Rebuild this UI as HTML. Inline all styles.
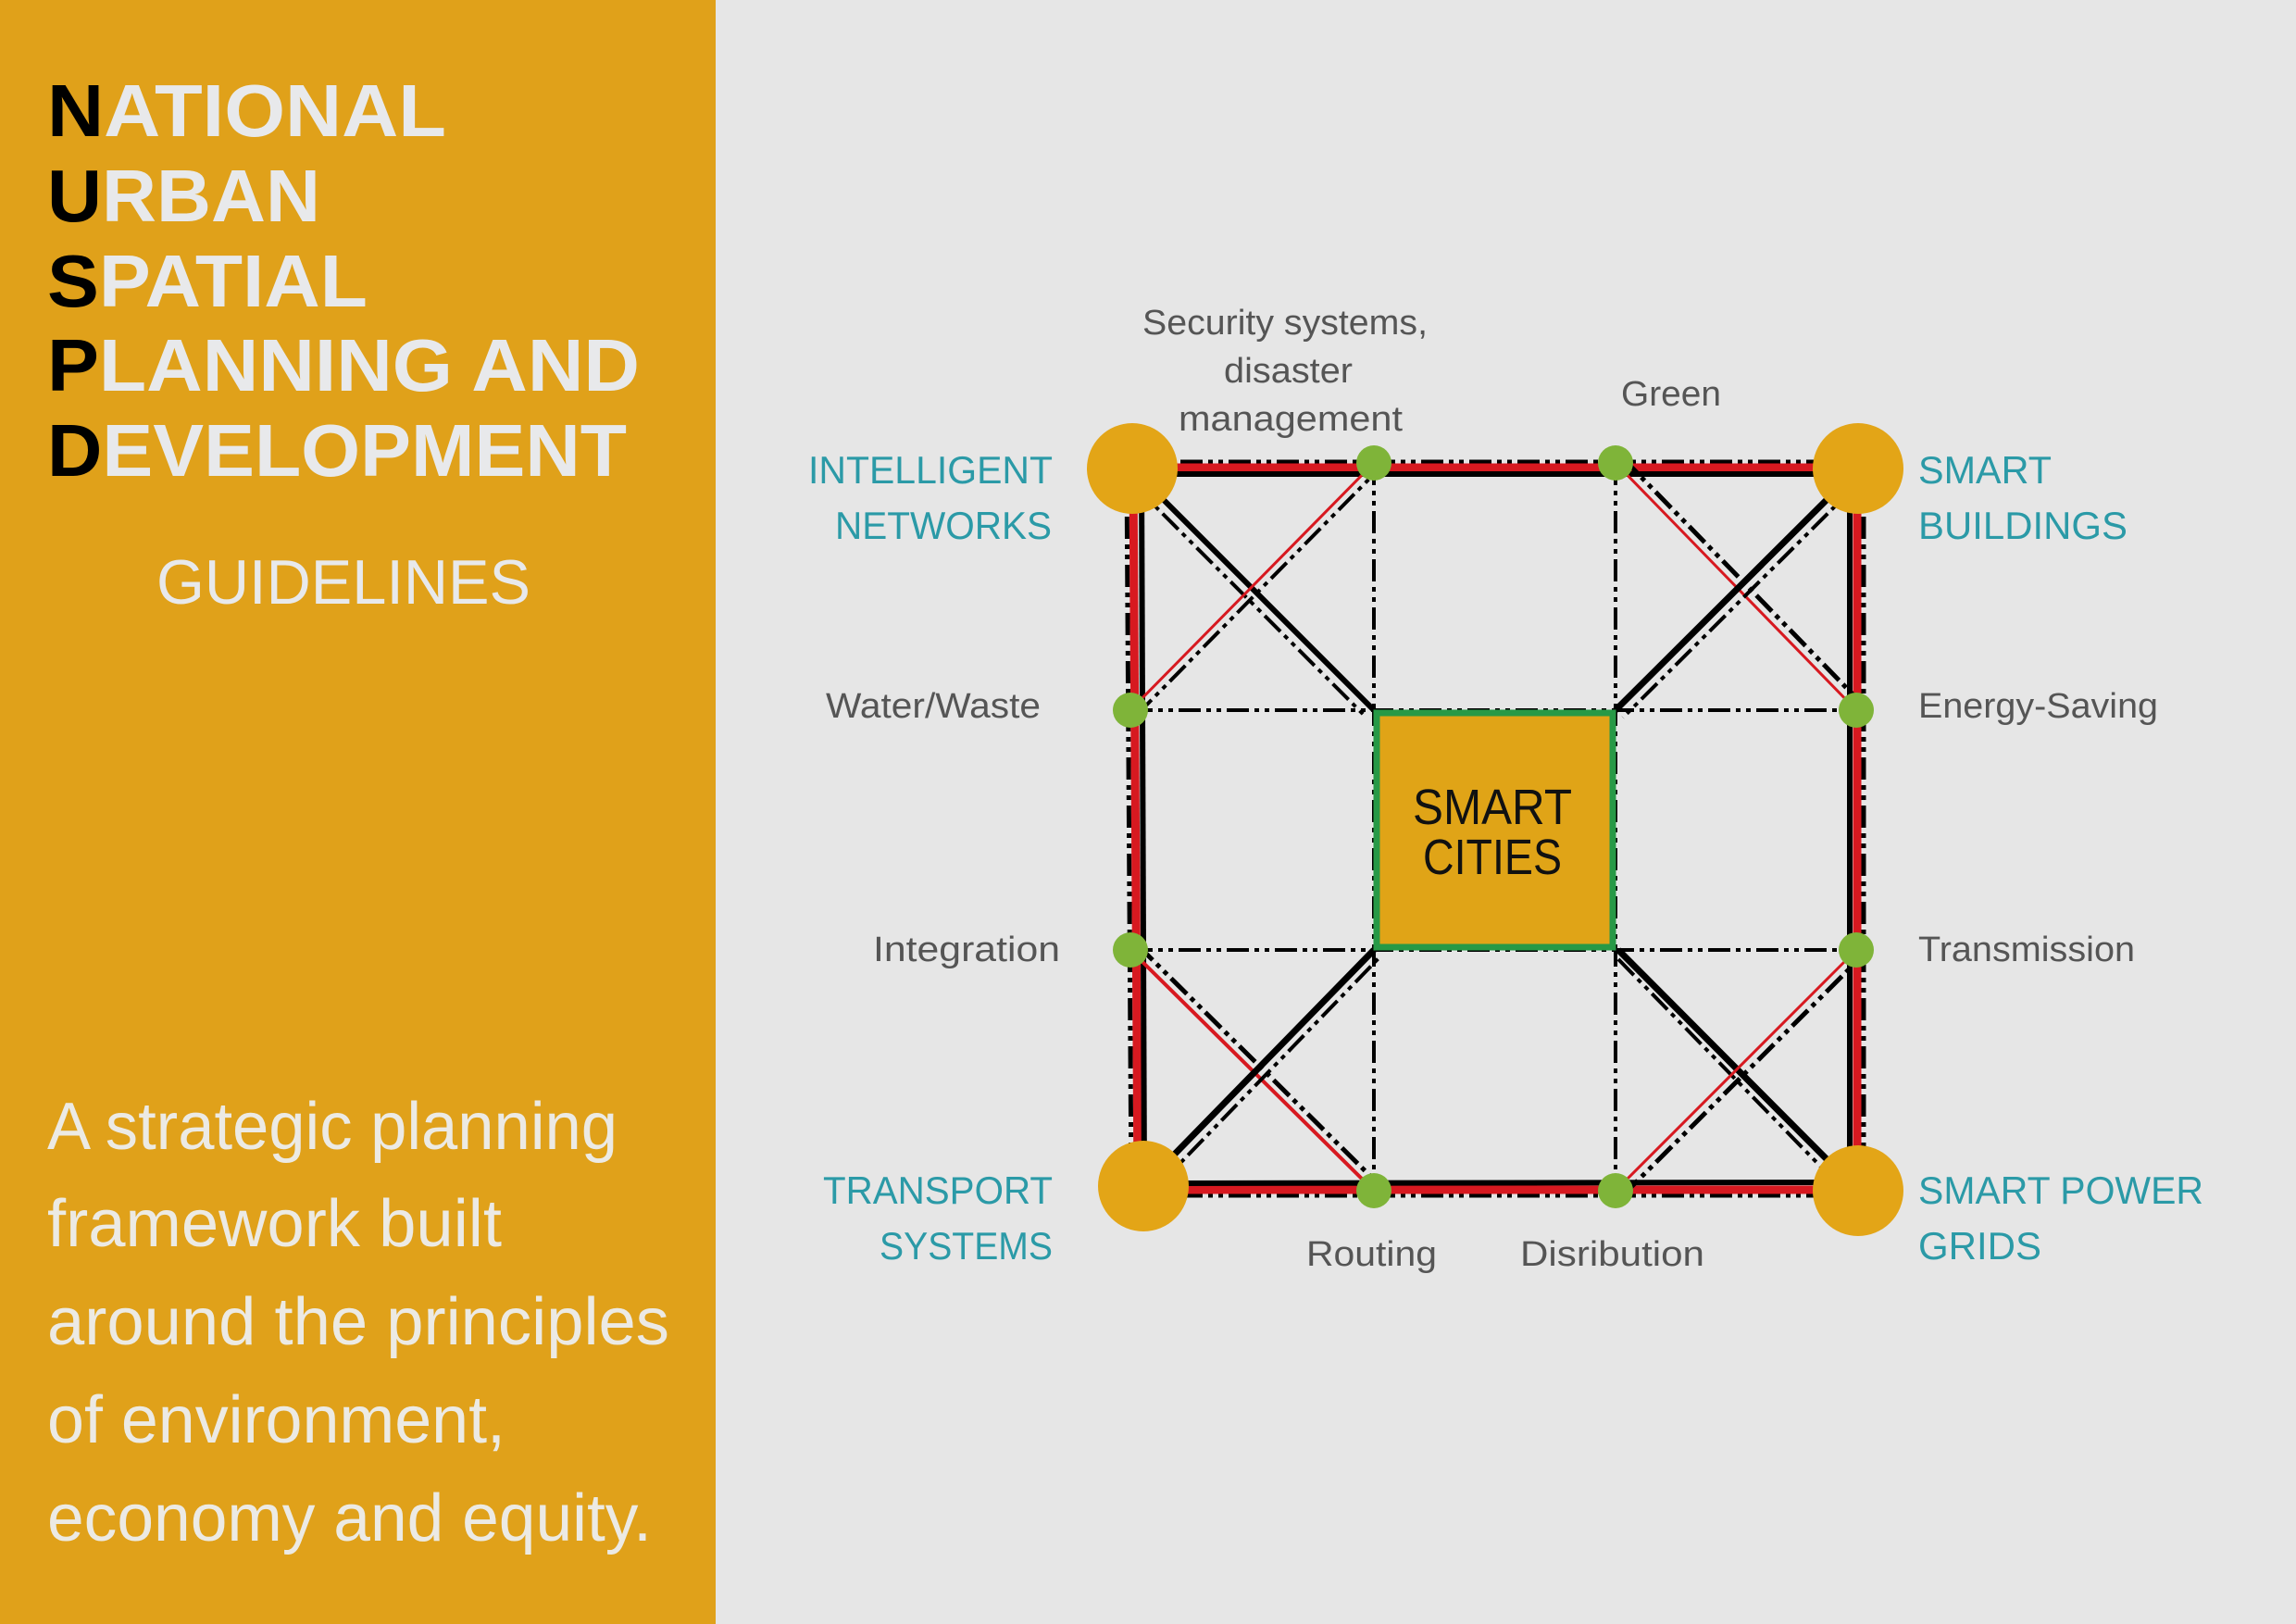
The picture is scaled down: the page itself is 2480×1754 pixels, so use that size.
<!DOCTYPE html>
<html><head><meta charset="utf-8"><style>
html,body{margin:0;padding:0;width:2480px;height:1754px;overflow:hidden;background:#e6e6e6}
svg{display:block}
</style></head><body>
<svg width="2480" height="1754" viewBox="0 0 2480 1754" xmlns="http://www.w3.org/2000/svg">
<rect x="0" y="0" width="2480" height="1754" fill="#e6e6e6"/>
<rect x="0" y="0" width="773" height="1754" fill="#e0a11a"/>
<g font-family="Liberation Sans, sans-serif" font-weight="bold" font-size="80" fill="#e8e9eb">
<text x="51" y="147" textLength="431" lengthAdjust="spacingAndGlyphs"><tspan fill="#000">N</tspan>ATIONAL</text>
<text x="51" y="239" textLength="295" lengthAdjust="spacingAndGlyphs"><tspan fill="#000">U</tspan>RBAN</text>
<text x="51" y="331" textLength="346" lengthAdjust="spacingAndGlyphs"><tspan fill="#000">S</tspan>PATIAL</text>
<text x="51" y="422" textLength="640" lengthAdjust="spacingAndGlyphs"><tspan fill="#000">P</tspan>LANNING AND</text>
<text x="51" y="514" textLength="626" lengthAdjust="spacingAndGlyphs"><tspan fill="#000">D</tspan>EVELOPMENT</text>
</g>
<text x="169" y="652" font-family="Liberation Sans, sans-serif" font-size="68" fill="#e8e9eb" textLength="404" lengthAdjust="spacingAndGlyphs">GUIDELINES</text>
<g font-family="Liberation Sans, sans-serif" font-size="72" fill="#eceae4">
<text x="51" y="1241" textLength="616" lengthAdjust="spacingAndGlyphs">A strategic planning</text>
<text x="51" y="1346" textLength="491" lengthAdjust="spacingAndGlyphs">framework built</text>
<text x="51" y="1452" textLength="672" lengthAdjust="spacingAndGlyphs">around the principles</text>
<text x="51" y="1558" textLength="495" lengthAdjust="spacingAndGlyphs">of environment,</text>
<text x="51" y="1664" textLength="653" lengthAdjust="spacingAndGlyphs">economy and equity.</text>
</g>

<g stroke="#000" stroke-width="4" fill="none" stroke-dasharray="24 6 5 6 5 6">
<line x1="1484" y1="500" x2="1484" y2="1286"/>
<line x1="1745" y1="500" x2="1745" y2="1286"/>
<line x1="1221" y1="767" x2="2005" y2="767"/>
<line x1="1221" y1="1026" x2="2005" y2="1026"/>
</g>

<g fill="none">
<g stroke="#000" stroke-width="5" stroke-dasharray="24 6 5 6 5 6">
<line x1="1223" y1="499" x2="2007" y2="499"/>
<line x1="1223" y1="1291" x2="2007" y2="1291"/>
<line x1="1217" y1="506" x2="1222" y2="1286"/>
<line x1="2013" y1="506" x2="2013" y2="1286"/>
</g>
<g stroke="#d71920" stroke-width="9">
<line x1="1223" y1="505" x2="2007" y2="505"/>
<line x1="1235" y1="1285" x2="2007" y2="1285"/>
<line x1="1224" y1="506" x2="1229" y2="1281"/>
<line x1="2006" y1="506" x2="2006" y2="1286"/>
</g>
<g stroke="#000" stroke-width="6">
<line x1="1223" y1="512" x2="2007" y2="512"/>
<line x1="1235" y1="1278" x2="2007" y2="1277"/>
<line x1="1233" y1="506" x2="1236" y2="1281"/>
<line x1="1998" y1="506" x2="1998" y2="1286"/>
</g>
</g>

<g fill="none">
<line x1="1227" y1="510" x2="1484" y2="767" stroke="#000" stroke-width="6"/>
<line x1="1219" y1="518" x2="1476" y2="775" stroke="#000" stroke-width="4" stroke-dasharray="24 6 5 6 5 6"/>
<line x1="1221" y1="767" x2="1484" y2="500" stroke="#d71920" stroke-width="3"/>
<line x1="1227" y1="773" x2="1490" y2="506" stroke="#000" stroke-width="4" stroke-dasharray="24 6 5 6 5 6"/>
<line x1="1745" y1="500" x2="2005" y2="767" stroke="#d71920" stroke-width="3"/>
<line x1="1752" y1="494" x2="2012" y2="761" stroke="#000" stroke-width="5" stroke-dasharray="24 6 5 6 5 6"/>
<line x1="2003" y1="510" x2="1745" y2="767" stroke="#000" stroke-width="7"/>
<line x1="2011" y1="518" x2="1753" y2="775" stroke="#000" stroke-width="4" stroke-dasharray="24 6 5 6 5 6"/>
<line x1="1221" y1="1026" x2="1484" y2="1286" stroke="#d71920" stroke-width="4"/>
<line x1="1228" y1="1020" x2="1490" y2="1280" stroke="#000" stroke-width="5" stroke-dasharray="24 6 5 6 5 6"/>
<line x1="1239" y1="1277" x2="1484" y2="1026" stroke="#000" stroke-width="7"/>
<line x1="1247" y1="1285" x2="1490" y2="1034" stroke="#000" stroke-width="4" stroke-dasharray="24 6 5 6 5 6"/>
<line x1="1748" y1="1026" x2="2003" y2="1282" stroke="#000" stroke-width="7"/>
<line x1="1748" y1="1036" x2="1996" y2="1290" stroke="#000" stroke-width="4" stroke-dasharray="24 6 5 6 5 6"/>
<line x1="1745" y1="1286" x2="2005" y2="1026" stroke="#d71920" stroke-width="3"/>
<line x1="1752" y1="1292" x2="2012" y2="1032" stroke="#000" stroke-width="5" stroke-dasharray="24 6 5 6 5 6"/>
</g>

<rect x="1487" y="770" width="255" height="253" fill="#e0a417" stroke="#279946" stroke-width="7"/>
<text x="1612" y="890" text-anchor="middle" font-family="Liberation Sans, sans-serif" font-size="54" fill="#111" textLength="172" lengthAdjust="spacingAndGlyphs">SMART</text>
<text x="1612" y="944" text-anchor="middle" font-family="Liberation Sans, sans-serif" font-size="54" fill="#111" textLength="150" lengthAdjust="spacingAndGlyphs">CITIES</text>

<g fill="#e3a517">
<circle cx="1223" cy="506" r="49"/>
<circle cx="2007" cy="506" r="49"/>
<circle cx="1235" cy="1281" r="49"/>
<circle cx="2007" cy="1286" r="49"/>
</g>
<g fill="#7fb439">
<circle cx="1484" cy="500" r="19"/>
<circle cx="1745" cy="500" r="19"/>
<circle cx="1221" cy="767" r="19"/>
<circle cx="2005" cy="767" r="19"/>
<circle cx="1221" cy="1026" r="19"/>
<circle cx="2005" cy="1026" r="19"/>
<circle cx="1484" cy="1286" r="19"/>
<circle cx="1745" cy="1286" r="19"/>
</g>

<g font-family="Liberation Sans, sans-serif" font-size="42" fill="#2b9aa7">
<text x="873" y="522" textLength="264" lengthAdjust="spacingAndGlyphs">INTELLIGENT</text>
<text x="902" y="582" textLength="234" lengthAdjust="spacingAndGlyphs">NETWORKS</text>
<text x="2072" y="522" textLength="144" lengthAdjust="spacingAndGlyphs">SMART</text>
<text x="2072" y="582" textLength="226" lengthAdjust="spacingAndGlyphs">BUILDINGS</text>
<text x="889" y="1300" textLength="248" lengthAdjust="spacingAndGlyphs">TRANSPORT</text>
<text x="950" y="1360" textLength="187" lengthAdjust="spacingAndGlyphs">SYSTEMS</text>
<text x="2072" y="1300" textLength="308" lengthAdjust="spacingAndGlyphs">SMART POWER</text>
<text x="2072" y="1360">GRIDS</text>
</g>
<g font-family="Liberation Sans, sans-serif" font-size="38" fill="#555">
<text x="1234" y="361" textLength="308" lengthAdjust="spacingAndGlyphs">Security systems,</text>
<text x="1322" y="413" textLength="139" lengthAdjust="spacingAndGlyphs">disaster</text>
<text x="1273" y="465" textLength="242" lengthAdjust="spacingAndGlyphs">management</text>
<text x="1751" y="438" textLength="108" lengthAdjust="spacingAndGlyphs">Green</text>
<text x="892" y="775" textLength="232" lengthAdjust="spacingAndGlyphs">Water/Waste</text>
<text x="2072" y="775" textLength="259" lengthAdjust="spacingAndGlyphs">Energy-Saving</text>
<text x="943" y="1038" textLength="202" lengthAdjust="spacingAndGlyphs">Integration</text>
<text x="2072" y="1038" textLength="234" lengthAdjust="spacingAndGlyphs">Transmission</text>
<text x="1411" y="1367" textLength="141" lengthAdjust="spacingAndGlyphs">Routing</text>
<text x="1642" y="1367" textLength="199" lengthAdjust="spacingAndGlyphs">Disribution</text>
</g>
</svg>
</body></html>
